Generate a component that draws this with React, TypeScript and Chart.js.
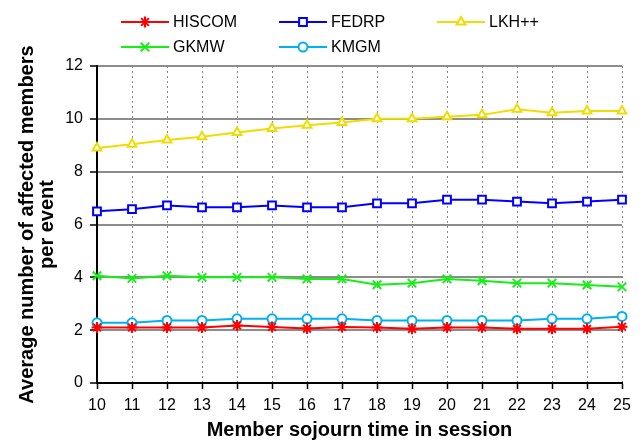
import React, { useEffect, useRef } from "react";
import { Chart, registerables } from "chart.js";
import { drawPoint } from "chart.js/helpers";

Chart.register(...registerables);

const sojournTimes = ["10", "11", "12", "13", "14", "15", "16", "17", "18", "19", "20", "21", "22", "23", "24", "25"];
const hiscom = [2.1, 2.1, 2.1, 2.1, 2.18, 2.12, 2.06, 2.12, 2.1, 2.05, 2.1, 2.1, 2.05, 2.05, 2.05, 2.13];
const fedrp = [6.5, 6.58, 6.72, 6.65, 6.65, 6.72, 6.65, 6.65, 6.8, 6.8, 6.94, 6.94, 6.87, 6.8, 6.87, 6.94];
const lkh = [8.9, 9.04, 9.2, 9.32, 9.48, 9.63, 9.76, 9.86, 10.0, 10.0, 10.08, 10.15, 10.36, 10.23, 10.3, 10.3];
const gkmw = [4.06, 3.96, 4.06, 4.0, 4.0, 4.0, 3.94, 3.94, 3.72, 3.78, 3.94, 3.87, 3.78, 3.78, 3.71, 3.64];
const kmgm = [2.28, 2.28, 2.37, 2.37, 2.43, 2.43, 2.43, 2.43, 2.37, 2.37, 2.37, 2.37, 2.37, 2.43, 2.43, 2.52];
const seriesNames = ["HISCOM", "FEDRP", "LKH++", "GKMW", "KMGM"];
const yTicks = [0, 2, 4, 6, 8, 10, 12];

const FONT = "'Liberation Sans', Arial, sans-serif";

const legendPlugin = {
  id: "gridLegend",
  afterDraw(chart: any) {
    const ctx = chart.ctx;
    const cols = [121, 279, 437];
    const rows = [22, 47];
    const lineLen = 48;
    chart.data.datasets.forEach((ds: any, i: number) => {
      const x = cols[i % 3];
      const y = rows[Math.floor(i / 3)];
      ctx.save();
      ctx.strokeStyle = ds.borderColor;
      ctx.lineWidth = 2;
      ctx.beginPath();
      ctx.moveTo(x, y);
      ctx.lineTo(x + lineLen, y);
      ctx.stroke();
      ctx.fillStyle = "#ffffff";
      ctx.lineWidth = 2;
      drawPoint(
        ctx,
        { pointStyle: ds.pointStyle, radius: ds.pointRadius, rotation: 0, borderWidth: 2 },
        x + lineLen / 2,
        y
      );
      ctx.fillStyle = "#000";
      ctx.font = `16px ${FONT}`;
      ctx.textBaseline = "middle";
      ctx.textAlign = "left";
      ctx.fillText(ds.label, x + lineLen + 4, y + 1);
      ctx.restore();
    });
  },
};

export default function App() {
  const ref = useRef<HTMLCanvasElement>(null);
  useEffect(() => {
    if (!ref.current) return;
    const mk = (label: string, data: number[], color: string, style: string, r: number) => ({
      label,
      data,
      borderColor: color,
      backgroundColor: "#ffffff",
      pointBorderColor: color,
      pointBackgroundColor: "#ffffff",
      borderWidth: 2,
      pointBorderWidth: 2,
      pointStyle: style,
      pointRadius: r,
      tension: 0,
    });
    const chart = new Chart(ref.current, {
      type: "line",
      data: {
        labels: sojournTimes,
        datasets: [
          mk(seriesNames[0], hiscom, "#ff0000", "star", 5.5),
          mk(seriesNames[1], fedrp, "#0000ff", "rect", 5.5),
          mk(seriesNames[2], lkh, "#f0dc00", "triangle", 5),
          mk(seriesNames[3], gkmw, "#14f014", "crossRot", 6),
          mk(seriesNames[4], kmgm, "#00b0f0", "circle", 4.5),
        ] as any,
      },
      options: {
        animation: false,
        responsive: false,
        devicePixelRatio: 1,
        layout: { padding: { top: 66, right: 22, left: 0, bottom: 0 } },
        plugins: { legend: { display: false }, tooltip: { enabled: false } },
        font: { family: FONT },
        scales: {
          x: {
            type: "category",
            offset: false,
            grid: {
              offset: false,
              color: "#888888",
              lineWidth: 1,
              tickColor: "#000",
              tickLength: 6,
              tickWidth: 1.5,
            },
            border: { display: true, color: "#000", width: 2, dash: [2, 3] },
            ticks: { color: "#000", font: { family: FONT, size: 16 }, padding: 7, maxRotation: 0, autoSkip: false },
            title: {
              display: true,
              text: "Member sojourn time in session",
              color: "#000",
              font: { family: FONT, size: 20, weight: "bold" },
              padding: { top: 0, bottom: 2 },
            },
            afterFit(scale: any) {
              scale.height = 61;
            },
          },
          y: {
            min: 0,
            max: 12,
            afterBuildTicks(scale: any) {
              scale.ticks = yTicks.map((v) => ({ value: v }));
            },
            grid: {
              color: "#8c8c8c",
              lineWidth: 2,
              tickColor: "#000",
              tickLength: 7,
              tickWidth: 1.5,
            },
            border: { display: true, color: "#000", width: 2 },
            ticks: { color: "#000", font: { family: FONT, size: 16 }, padding: 7 },
            title: {
              display: true,
              text: ["Average number of affected members", "per event"],
              color: "#000",
              font: { family: FONT, size: 20, weight: "bold", lineHeight: 1.0 },
              padding: { top: 17, bottom: 0 },
            },
            afterFit(scale: any) {
              scale.width = 97;
            },
          },
        },
      } as any,
      plugins: [legendPlugin],
    });
    return () => chart.destroy();
  }, []);
  return (
    <div style={{ position: "absolute", left: 0, top: 0, width: 644, height: 444, background: "#fff" }}>
      <canvas ref={ref} width={644} height={444} style={{ width: 644, height: 444 }} />
    </div>
  );
}
